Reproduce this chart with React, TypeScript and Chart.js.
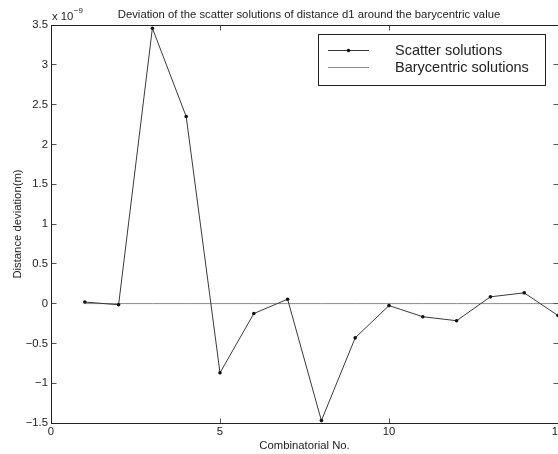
import React, { useEffect, useRef } from "react";
import { Chart, registerables } from "chart.js";

Chart.register(...registerables);

// ---- data (values in units of 1e-9 m) ----
const combinations = [1, 2, 3, 4, 5, 6, 7, 8, 9, 10, 11, 12, 13, 14, 15];
const scatterDeviation = [0.02, -0.015, 3.46, 2.35, -0.87, -0.125, 0.055, -1.47, -0.43, -0.025, -0.165, -0.215, 0.085, 0.135, -0.15];
const barycentricDeviation = [0, 0, 0, 0, 0, 0, 0, 0, 0, 0, 0, 0, 0, 0, 0];
const xTicks = [0, 5, 10, 15];
const yTicks = [-1.5, -1, -0.5, 0, 0.5, 1, 1.5, 2, 2.5, 3, 3.5];
const legendLabels = ["Scatter solutions", "Barycentric solutions"];
const TITLE = "Deviation of the scatter solutions of distance d1 around the barycentric value";
const X_LABEL = "Combinatorial No.";
const Y_LABEL = "Distance deviation(m)";
const EXP_BASE = "x 10";
const EXP_POWER = "\u22129";

const FONT = "'Liberation Sans', Arial, Helvetica, sans-serif";
const FS = 11.3;

const fmt = (v: number) => {
  const r = Math.round(v * 10) / 10;
  return r < 0 ? "\u2212" + String(Math.abs(r)) : String(r);
};

const framePlugin = {
  id: "matlabFrame",
  afterDraw(chart: any) {
    const ctx = chart.ctx as CanvasRenderingContext2D;
    const { left, right, top, bottom } = chart.chartArea;
    const L = Math.floor(left) + 0.5;
    const R = Math.floor(right) + 0.5;
    const T = Math.floor(top) + 0.5;
    const B = Math.floor(bottom) + 0.5;
    const xs = chart.scales.x;
    const ys = chart.scales.y;
    ctx.save();
    // ticks (inward, all four sides)
    ctx.strokeStyle = "#555";
    ctx.lineWidth = 1;
    ctx.beginPath();
    for (const v of xTicks) {
      const px = Math.floor(xs.getPixelForValue(v)) + 0.5;
      ctx.moveTo(px, B);
      ctx.lineTo(px, B - 5);
      ctx.moveTo(px, T);
      ctx.lineTo(px, T + 5);
    }
    for (const v of yTicks) {
      const py = Math.floor(ys.getPixelForValue(v)) + 0.5;
      ctx.moveTo(L, py);
      ctx.lineTo(L + 5, py);
      ctx.moveTo(R, py);
      ctx.lineTo(R - 5, py);
    }
    ctx.stroke();
    // box
    ctx.strokeStyle = "#222";
    ctx.strokeRect(L, T, R - L, B - T);

    // title
    ctx.fillStyle = "#222";
    ctx.font = `${FS}px ${FONT}`;
    ctx.textAlign = "center";
    ctx.textBaseline = "alphabetic";
    ctx.fillText(TITLE, 309, 18);

    // exponent
    ctx.textAlign = "left";
    ctx.fillText(EXP_BASE, 52, 20);
    const w = ctx.measureText(EXP_BASE).width;
    ctx.font = `8px ${FONT}`;
    ctx.fillText(EXP_POWER, 52 + w + 0.5, 13);

    // legend
    const bx = 318.5, by = 34.5, bw = 227, bh = 51;
    ctx.fillStyle = "#fff";
    ctx.fillRect(bx, by, bw, bh);
    ctx.strokeStyle = "#222";
    ctx.strokeRect(bx, by, bw, bh);
    const rows = [50.5, 67.5];
    const ds = chart.data.datasets;
    rows.forEach((ry, i) => {
      ctx.strokeStyle = ds[i].borderColor;
      ctx.beginPath();
      ctx.moveTo(328, ry);
      ctx.lineTo(369, ry);
      ctx.stroke();
      if (i === 0) {
        ctx.fillStyle = "#111";
        ctx.beginPath();
        ctx.arc(348.5, ry, 1.8, 0, Math.PI * 2);
        ctx.fill();
      }
      ctx.fillStyle = "#222";
      ctx.font = `14.5px ${FONT}`;
      ctx.textBaseline = "middle";
      ctx.fillText(legendLabels[i], 395, ry);
    });
    ctx.restore();
  },
};

export default function App() {
  const ref = useRef<HTMLCanvasElement | null>(null);
  useEffect(() => {
    document.body.style.margin = "0";
    const canvas = ref.current!;
    const font = { family: FONT, size: FS };
    const chart = new Chart(canvas, {
      type: "line",
      data: {
        datasets: [
          {
            label: legendLabels[0],
            data: combinations.map((x, i) => ({ x, y: scatterDeviation[i] })),
            borderColor: "#3a3a3a",
            borderWidth: 1,
            pointRadius: 1.8,
            pointBackgroundColor: "#111",
            pointBorderColor: "#111",
            pointBorderWidth: 0,
            tension: 0,
            fill: false,
          },
          {
            label: legendLabels[1],
            data: combinations.map((x, i) => ({ x, y: barycentricDeviation[i] })),
            borderColor: "#8a8a8a",
            borderWidth: 1,
            pointRadius: 0,
            tension: 0,
            fill: false,
          },
        ],
      },
      options: {
        responsive: false,
        animation: false,
        events: [],
        layout: { padding: { top: 25, right: 22, left: 0, bottom: 0 } },
        plugins: {
          legend: { display: false },
          tooltip: { enabled: false },
          title: { display: false },
        },
        scales: {
          x: {
            type: "linear",
            min: 0,
            max: 15,
            afterBuildTicks: (s: any) => {
              s.ticks = xTicks.map((v) => ({ value: v }));
            },
            afterFit: (s: any) => {
              s.height = 31;
            },
            grid: { display: false, drawTicks: false },
            border: { display: false },
            ticks: { padding: 2, color: "#222", font, maxRotation: 0, autoSkip: false },
            title: { display: true, text: X_LABEL, color: "#222", font, padding: { top: 0, bottom: 1.5 } },
          },
          y: {
            type: "linear",
            min: -1.5,
            max: 3.5,
            afterBuildTicks: (s: any) => {
              s.ticks = yTicks.map((v) => ({ value: v }));
            },
            afterFit: (s: any) => {
              s.width = 51;
            },
            grid: { display: false, drawTicks: false },
            border: { display: false },
            ticks: { padding: 3, color: "#222", font, autoSkip: false, callback: (v: any) => fmt(Number(v)) },
            title: { display: true, text: Y_LABEL, color: "#222", font, padding: { top: 11, bottom: 0 } },
          },
        },
      },
      plugins: [framePlugin],
    } as any);
    return () => chart.destroy();
  }, []);
  return (
    <div style={{ position: "fixed", left: 0, top: 0, width: 558, height: 454, overflow: "hidden", background: "#fff" }}>
      <canvas ref={ref} width={580} height={454} style={{ display: "block" }} />
    </div>
  );
}
